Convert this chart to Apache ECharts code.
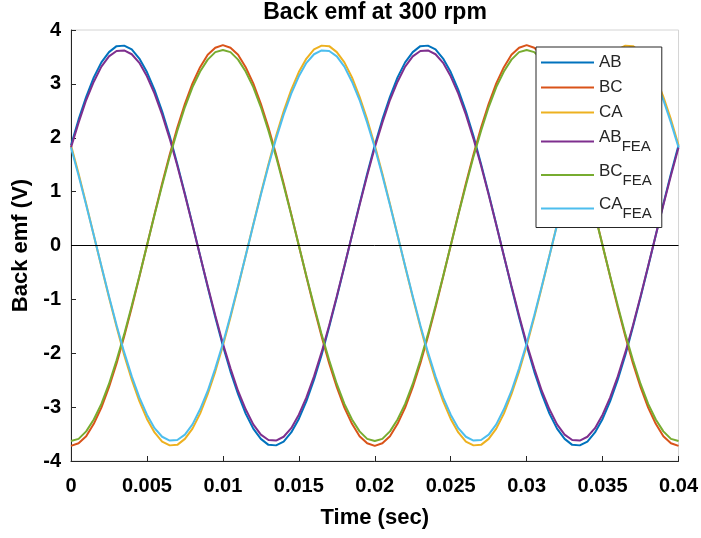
<!DOCTYPE html>
<html>
<head>
<meta charset="utf-8">
<script src="https://cdn.jsdelivr.net/npm/echarts@6/dist/echarts.min.js"></script>
<style>
  html, body { margin: 0; padding: 0; background: #fff; }
  #chart { width: 701px; height: 538px; }
</style>
</head>
<body>
<div id="chart"></div>
<script>
// time samples (sec), every 0.5 ms
const time = [0, 0.0005, 0.001, 0.0015, 0.002, 0.0025, 0.003, 0.0035, 0.004, 0.0045,
  0.005, 0.0055, 0.006, 0.0065, 0.007, 0.0075, 0.008, 0.0085, 0.009, 0.0095,
  0.010, 0.0105, 0.011, 0.0115, 0.012, 0.0125, 0.013, 0.0135, 0.014, 0.0145,
  0.015, 0.0155, 0.016, 0.0165, 0.017, 0.0175, 0.018, 0.0185, 0.019, 0.0195,
  0.020, 0.0205, 0.021, 0.0215, 0.022, 0.0225, 0.023, 0.0235, 0.024, 0.0245,
  0.025, 0.0255, 0.026, 0.0265, 0.027, 0.0275, 0.028, 0.0285, 0.029, 0.0295,
  0.030, 0.0305, 0.031, 0.0315, 0.032, 0.0325, 0.033, 0.0335, 0.034, 0.0345,
  0.035, 0.0355, 0.036, 0.0365, 0.037, 0.0375, 0.038, 0.0385, 0.039, 0.0395, 0.040]

// line-to-line back emf (V), analytical
const AB = [1.86, 2.34, 2.76, 3.12, 3.40, 3.59, 3.70, 3.71, 3.64, 3.47, 3.22, 2.89, 2.49, 2.03, 1.51, 0.96, 0.39, -0.19, -0.77, -1.33,
  -1.86, -2.34, -2.76, -3.12, -3.40, -3.59, -3.70, -3.71, -3.64, -3.47, -3.22, -2.89, -2.49, -2.03, -1.51, -0.96, -0.39, 0.19, 0.77, 1.33,
  1.86, 2.34, 2.76, 3.12, 3.40, 3.59, 3.70, 3.71, 3.64, 3.47, 3.22, 2.89, 2.49, 2.03, 1.51, 0.96, 0.39, -0.19, -0.77, -1.33,
  -1.86, -2.34, -2.76, -3.12, -3.40, -3.59, -3.70, -3.71, -3.64, -3.47, -3.22, -2.89, -2.49, -2.03, -1.51, -0.96, -0.39, 0.19, 0.77, 1.33,
  1.86]
const BC = [-3.72, -3.67, -3.54, -3.31, -3.01, -2.63, -2.19, -1.69, -1.15, -0.58, 0.00, 0.58, 1.15, 1.69, 2.19, 2.63, 3.01, 3.31, 3.54, 3.67,
  3.72, 3.67, 3.54, 3.31, 3.01, 2.63, 2.19, 1.69, 1.15, 0.58, 0.00, -0.58, -1.15, -1.69, -2.19, -2.63, -3.01, -3.31, -3.54, -3.67,
  -3.72, -3.67, -3.54, -3.31, -3.01, -2.63, -2.19, -1.69, -1.15, -0.58, 0.00, 0.58, 1.15, 1.69, 2.19, 2.63, 3.01, 3.31, 3.54, 3.67,
  3.72, 3.67, 3.54, 3.31, 3.01, 2.63, 2.19, 1.69, 1.15, 0.58, 0.00, -0.58, -1.15, -1.69, -2.19, -2.63, -3.01, -3.31, -3.54, -3.67,
  -3.72]
const CA = [1.86, 1.33, 0.77, 0.19, -0.39, -0.96, -1.51, -2.03, -2.49, -2.89, -3.22, -3.47, -3.64, -3.71, -3.70, -3.59, -3.40, -3.12, -2.76, -2.34,
  -1.86, -1.33, -0.77, -0.19, 0.39, 0.96, 1.51, 2.03, 2.49, 2.89, 3.22, 3.47, 3.64, 3.71, 3.70, 3.59, 3.40, 3.12, 2.76, 2.34,
  1.86, 1.33, 0.77, 0.19, -0.39, -0.96, -1.51, -2.03, -2.49, -2.89, -3.22, -3.47, -3.64, -3.71, -3.70, -3.59, -3.40, -3.12, -2.76, -2.34,
  -1.86, -1.33, -0.77, -0.19, 0.39, 0.96, 1.51, 2.03, 2.49, 2.89, 3.22, 3.47, 3.64, 3.71, 3.70, 3.59, 3.40, 3.12, 2.76, 2.34,
  1.86]

// FEA results (V)
const AB_FEA = [1.82, 2.28, 2.70, 3.04, 3.32, 3.51, 3.61, 3.62, 3.55, 3.39, 3.14, 2.82, 2.43, 1.98, 1.48, 0.94, 0.38, -0.19, -0.75, -1.30,
  -1.82, -2.28, -2.70, -3.04, -3.32, -3.51, -3.61, -3.62, -3.55, -3.39, -3.14, -2.82, -2.43, -1.98, -1.48, -0.94, -0.38, 0.19, 0.75, 1.30,
  1.82, 2.28, 2.70, 3.04, 3.32, 3.51, 3.61, 3.62, 3.55, 3.39, 3.14, 2.82, 2.43, 1.98, 1.48, 0.94, 0.38, -0.19, -0.75, -1.30,
  -1.82, -2.28, -2.70, -3.04, -3.32, -3.51, -3.61, -3.62, -3.55, -3.39, -3.14, -2.82, -2.43, -1.98, -1.48, -0.94, -0.38, 0.19, 0.75, 1.30,
  1.82]
const BC_FEA = [-3.63, -3.59, -3.45, -3.23, -2.94, -2.57, -2.13, -1.65, -1.12, -0.57, 0.00, 0.57, 1.12, 1.65, 2.13, 2.57, 2.94, 3.23, 3.45, 3.59,
  3.63, 3.59, 3.45, 3.23, 2.94, 2.57, 2.13, 1.65, 1.12, 0.57, 0.00, -0.57, -1.12, -1.65, -2.13, -2.57, -2.94, -3.23, -3.45, -3.59,
  -3.63, -3.59, -3.45, -3.23, -2.94, -2.57, -2.13, -1.65, -1.12, -0.57, 0.00, 0.57, 1.12, 1.65, 2.13, 2.57, 2.94, 3.23, 3.45, 3.59,
  3.63, 3.59, 3.45, 3.23, 2.94, 2.57, 2.13, 1.65, 1.12, 0.57, 0.00, -0.57, -1.12, -1.65, -2.13, -2.57, -2.94, -3.23, -3.45, -3.59,
  -3.63]
const CA_FEA = [1.82, 1.30, 0.75, 0.19, -0.38, -0.94, -1.48, -1.98, -2.43, -2.82, -3.14, -3.39, -3.55, -3.62, -3.61, -3.51, -3.32, -3.04, -2.70, -2.28,
  -1.82, -1.30, -0.75, -0.19, 0.38, 0.94, 1.48, 1.98, 2.43, 2.82, 3.14, 3.39, 3.55, 3.62, 3.61, 3.51, 3.32, 3.04, 2.70, 2.28,
  1.82, 1.30, 0.75, 0.19, -0.38, -0.94, -1.48, -1.98, -2.43, -2.82, -3.14, -3.39, -3.55, -3.62, -3.61, -3.51, -3.32, -3.04, -2.70, -2.28,
  -1.82, -1.30, -0.75, -0.19, 0.38, 0.94, 1.48, 1.98, 2.43, 2.82, 3.14, 3.39, 3.55, 3.62, 3.61, 3.51, 3.32, 3.04, 2.70, 2.28,
  1.82]

const names = ['AB', 'BC', 'CA', 'AB_FEA', 'BC_FEA', 'CA_FEA']
const values = [AB, BC, CA, AB_FEA, BC_FEA, CA_FEA]
const colors = ['#0072BD', '#D95319', '#EDB120', '#7E2F8E', '#77AC30', '#4DBEEE']

const FONT = '"Liberation Sans", Arial, Helvetica, sans-serif'
const INK = '#262626'

const pairs = arr => arr.map((v, i) => [time[i], v])

let series = names.map((name, i) => ({
  name: name,
  type: 'line',
  data: pairs(values[i]),
  symbol: 'none',
  lineStyle: { width: 2, color: colors[i] },
  itemStyle: { color: colors[i] }
}))

// zero line
series[0].markLine = {
  silent: true,
  symbol: 'none',
  label: { show: false },
  lineStyle: { color: '#000', width: 1, type: 'solid' },
  data: [{ yAxis: 0 }]
}

let chart = echarts.init(document.getElementById('chart'), null, { renderer: 'canvas' })

let option = {
  animation: false,
  backgroundColor: '#fff',
  title: {
    text: 'Back emf at 300 rpm',
    left: 375, top: 1, padding: 0,
    textAlign: 'center',
    textStyle: { fontFamily: FONT, fontSize: 23, fontWeight: 'bold', color: '#000' }
  },
  grid: {
    left: 71, right: 21, top: 30, bottom: 77,
    show: true, borderColor: '#d4d4d4', borderWidth: 1
  },
  legend: {
    orient: 'vertical',
    left: 536, top: 47,
    padding: [7, 10, 6, 5],
    itemGap: 8,
    itemWidth: 53, itemHeight: 2,
    icon: 'rect',
    backgroundColor: '#fff',
    borderColor: INK, borderWidth: 1,
    data: names,
    textStyle: {
      fontFamily: FONT, color: INK,
      rich: {
        n: { fontFamily: FONT, fontSize: 17, color: INK, height: 19 },
        m: { fontFamily: FONT, fontSize: 17, color: INK, height: 18, verticalAlign: 'top' },
        s: { fontFamily: FONT, fontSize: 15, color: INK, height: 15, padding: [11, 0, 0, 0] }
      }
    },
    formatter: name => {
      let p = name.split('_')
      return p.length > 1 ? '{m|' + p[0] + '}{s|' + p[1] + '}' : '{n|' + p[0] + '}'
    }
  },
  xAxis: {
    type: 'value',
    min: 0, max: 0.04, interval: 0.005,
    name: 'Time (sec)',
    nameLocation: 'middle',
    nameGap: 46,
    nameTextStyle: { fontFamily: FONT, fontSize: 22, fontWeight: 'bold', color: '#000' },
    axisLine: { onZero: false, lineStyle: { color: INK, width: 1 } },
    axisTick: { inside: true, length: 5, lineStyle: { color: INK } },
    axisLabel: {
      margin: 15,
      fontFamily: FONT, fontSize: 20, fontWeight: 'bold', color: '#000',
      formatter: v => String(+v.toFixed(3))
    },
    splitLine: { show: false }
  },
  yAxis: {
    type: 'value',
    min: -4, max: 4, interval: 1,
    name: 'Back emf (V)',
    nameLocation: 'middle',
    nameGap: 34,
    nameTextStyle: { fontFamily: FONT, fontSize: 22, fontWeight: 'bold', color: '#000' },
    axisLine: { show: true, lineStyle: { color: INK, width: 1 } },
    axisTick: { show: true, inside: true, length: 5, lineStyle: { color: INK } },
    axisLabel: {
      margin: 10,
      fontFamily: FONT, fontSize: 20, fontWeight: 'bold', color: '#000'
    },
    splitLine: { show: false }
  },
  series: series
}

chart.setOption(option)
</script>
</body>
</html>
